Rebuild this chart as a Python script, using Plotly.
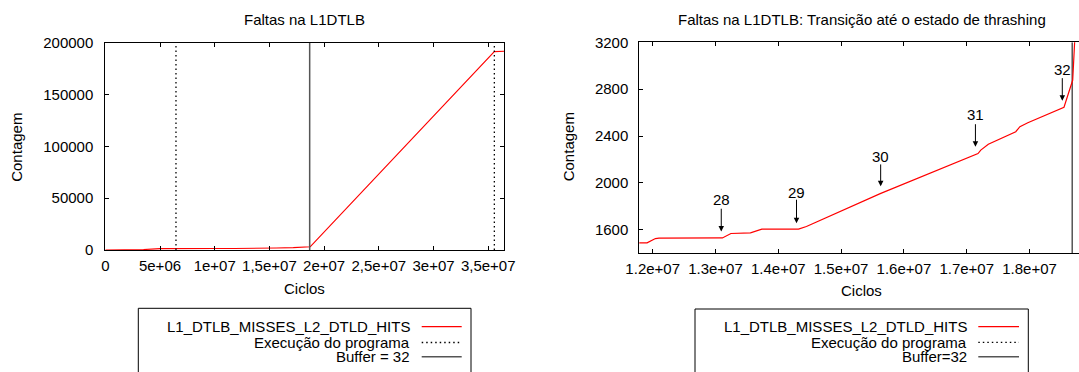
import plotly.graph_objects as go

# ---------------- data ----------------
cycles = [0, 2.0e6, 3.5e6, 5.0e6, 6.0e6, 1.0e7, 1.180e7, 1.191e7, 1.2044e7, 1.21e7,
          1.311e7, 1.3246e7, 1.3557e7, 1.3738e7, 1.4322e7, 1.4448e7, 1.5623e7,
          1.718e7, 1.7224e7, 1.7344e7, 1.7781e7, 1.7847e7, 1.7973e7, 1.8549e7,
          1.8688e7, 1.8735e7, 1.9e7, 2.694e7, 3.52e7, 3.556e7, 3.647e7]
misses = [0, 50, 400, 1300, 1450, 1480, 1489, 1489, 1526, 1529,
          1531, 1569, 1574, 1606, 1606, 1629, 1909,
          2251, 2280, 2331, 2437, 2480, 2514, 2646,
          2878, 3200, 6160, 94840, 187100, 191400, 191700]

exec_marks = [6.46e6, 3.556e7]      # Execução do programa
buffer_mark = 1.868e7               # Buffer = 32

left_xticks = [0, 5e6, 1e7, 1.5e7, 2e7, 2.5e7, 3e7, 3.5e7]
left_xtext = ["0", "5e+06", "1e+07", "1,5e+07", "2e+07", "2,5e+07", "3e+07", "3,5e+07"]
left_yticks = [0, 50000, 100000, 150000, 200000]
left_ytext = ["0", "50000", "100000", "150000", "200000"]

right_xticks = [1.2e7, 1.3e7, 1.4e7, 1.5e7, 1.6e7, 1.7e7, 1.8e7]
right_xtext = ["1.2e+07", "1.3e+07", "1.4e+07", "1.5e+07", "1.6e+07", "1.7e+07", "1.8e+07"]
right_yticks = [1600, 2000, 2400, 2800, 3200]
right_ytext = ["1600", "2000", "2400", "2800", "3200"]

buffer_labels = ["28", "29", "30", "31", "32"]
buffer_x = [1.3092e7, 1.4290e7, 1.5630e7, 1.7139e7, 1.8522e7]
arrow_tip_y = [1585, 1656, 1971, 2309, 2702]
arrow_tail_y = [1793, 1870, 2171, 2514, 2907]
label_y = [1855, 1921, 2229, 2580, 2970]

legend_left = ["L1_DTLB_MISSES_L2_DTLD_HITS", "Execução do programa", "Buffer = 32"]
legend_right = ["L1_DTLB_MISSES_L2_DTLD_HITS", "Execução do programa", "Buffer=32"]

# ---------------- layout helpers ----------------
W, H = 1079, 372
FONT = "Liberation Sans, Arial, sans-serif"
FS = 15
RED = "#ff0000"
GRAY = "#555555"
DOT = "1.5px,3px"


def px(x):
    return x / W


def py(y):
    return 1 - y / H


fig = go.Figure()

# ---- left plot ----
fig.add_trace(go.Scatter(x=cycles, y=misses, mode="lines", line=dict(color=RED, width=1.1),
                         xaxis="x", yaxis="y", showlegend=False))
for xm in exec_marks:
    fig.add_trace(go.Scatter(x=[xm, xm], y=[0, 200000], mode="lines",
                             line=dict(color="black", width=1.3, dash=DOT),
                             xaxis="x", yaxis="y", showlegend=False))
fig.add_trace(go.Scatter(x=[buffer_mark, buffer_mark], y=[0, 200000], mode="lines",
                         line=dict(color=GRAY, width=1.5), xaxis="x", yaxis="y", showlegend=False))

# ---- right plot ----
fig.add_trace(go.Scatter(x=[buffer_mark, buffer_mark], y=[1400, 3200], mode="lines",
                         line=dict(color=GRAY, width=1.5), xaxis="x2", yaxis="y2", showlegend=False))
fig.add_trace(go.Scatter(x=cycles, y=misses, mode="lines", line=dict(color=RED, width=1.2),
                         xaxis="x2", yaxis="y2", showlegend=False))

axis_common = dict(showgrid=False, zeroline=False, showline=True, linecolor="black", linewidth=1,
                   ticks="inside", ticklen=4, tickwidth=1, tickcolor="black", automargin=False,
                   tickfont=dict(family=FONT, size=FS, color="black"))

fig.update_layout(
    width=W, height=H,
    margin=dict(l=0, r=0, t=0, b=0, autoexpand=False),
    paper_bgcolor="white", plot_bgcolor="white",
    showlegend=False,
    font=dict(family=FONT, size=FS, color="black"),
    xaxis=dict(domain=[px(105.3), px(504.3)], range=[0, 3.647e7], anchor="y",
               tickmode="array", tickvals=left_xticks, ticktext=left_xtext,
               mirror="ticks", ticklabelstandoff=2, **axis_common),
    yaxis=dict(domain=[py(250), py(42.7)], range=[0, 200000], anchor="x",
               tickmode="array", tickvals=left_yticks, ticktext=left_ytext,
               mirror="ticks", ticklabelstandoff=8, **axis_common),
    xaxis2=dict(domain=[px(639.3), 1.0], range=[1.1787e7, 1.8788e7], anchor="y2",
                tickmode="array", tickvals=right_xticks, ticktext=right_xtext,
                mirror="ticks", ticklabelstandoff=2, **axis_common),
    yaxis2=dict(domain=[py(253.3), py(42.3)], range=[1400, 3200], anchor="x2",
                tickmode="array", tickvals=right_yticks, ticktext=right_ytext,
                mirror=False, ticklabelstandoff=7, **axis_common),
)

ann = []
shapes = []


def text(x, y, s, angle=0, xanchor="center"):
    ann.append(dict(x=px(x), y=py(y), xref="paper", yref="paper", text=s, showarrow=False,
                    xanchor=xanchor, yanchor="middle", textangle=angle,
                    font=dict(family=FONT, size=FS, color="black")))


# titles and axis titles
text(304.8, 20, "Faltas na L1DTLB")
text(861.8, 20, "Faltas na L1DTLB: Transição até o estado de thrashing")
text(304.3, 288, "Ciclos")
text(861.7, 290, "Ciclos")
text(15.8, 147, "Contagem", angle=-90)
text(568.3, 147, "Contagem", angle=-90)

# buffer-size arrows on right plot
for lab, bx, tip, tail, ly in zip(buffer_labels, buffer_x, arrow_tip_y, arrow_tail_y, label_y):
    ann.append(dict(x=bx, y=tip, xref="x2", yref="y2", ax=bx, ay=tail, axref="x2", ayref="y2",
                    text="", showarrow=True, arrowhead=2, arrowsize=1.1, arrowwidth=1,
                    arrowcolor="black", font=dict(size=1)))
    ann.append(dict(x=bx, y=ly, xref="x2", yref="y2", text=lab, showarrow=False,
                    xanchor="center", yanchor="middle",
                    font=dict(family=FONT, size=FS, color="black")))


def legend(labels, box_l, box_r, box_t, text_r, s0, s1, rows):
    shapes.append(dict(type="path", xref="paper", yref="paper",
                       path=f"M {px(box_l)},{py(380)} L {px(box_l)},{py(box_t)} "
                            f"L {px(box_r)},{py(box_t)} L {px(box_r)},{py(380)}",
                       line=dict(color="black", width=1)))
    styles = [dict(color=RED, width=1.2), dict(color="black", width=1.3, dash=DOT),
              dict(color=GRAY, width=1.5)]
    for lab, ry, st in zip(labels, rows, styles):
        text(text_r, ry, lab, xanchor="right")
        shapes.append(dict(type="line", xref="paper", yref="paper",
                           x0=px(s0), x1=px(s1), y0=py(ry), y1=py(ry), line=st))


legend(legend_left, 138.3, 471, 308.3, 412, 421.7, 461.7, [326.7, 342.5, 356.7])
legend(legend_right, 695, 1028.3, 309, 968.5, 978.3, 1019, [326.7, 342.3, 356.7])

fig.update_layout(annotations=ann, shapes=shapes)
fig.write_html(
    "out.html",
    config={"displayModeBar": False},
    post_script="document.body.style.margin='0';document.body.style.overflow='hidden';",
)
